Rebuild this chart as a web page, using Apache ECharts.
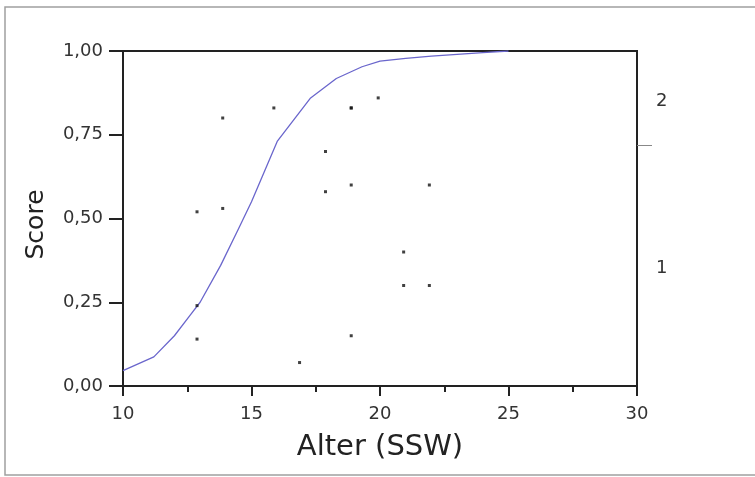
<!DOCTYPE html>
<html>
<head>
<meta charset="utf-8">
<script src="https://cdn.jsdelivr.net/npm/echarts@6/dist/echarts.min.js"></script>
<style>
  html, body { margin: 0; padding: 0; background: #fff; }
  #chart { width: 755px; height: 477px; }
</style>
</head>
<body>
<div id="chart"></div>
<script>
const caseAge = [12.88, 12.88, 12.88, 13.88, 13.88, 15.87, 16.87, 17.88, 17.88, 18.88, 18.88, 18.88, 18.88, 19.93, 20.92, 20.92, 21.92, 21.92]
const caseScore = [0.52, 0.24, 0.14, 0.80, 0.53, 0.83, 0.07, 0.70, 0.58, 0.83, 0.60, 0.15, 0.83, 0.86, 0.40, 0.30, 0.60, 0.30]

// fitted curve
const curveAge = [10, 11.2, 12, 12.6, 13, 13.8, 14.5, 15, 16, 17.3, 18.3, 19.3, 20, 21, 22, 23, 24, 25]
const curveScore = [0.046, 0.087, 0.15, 0.21, 0.25, 0.36, 0.47, 0.55, 0.73, 0.86, 0.918, 0.953, 0.97, 0.978, 0.985, 0.99, 0.995, 1.0]

// y tick labels and group labels on the right
const scoreTicks = ['0,00', '0,25', '0,50', '0,75', '1,00']
const groupLabels = ['1', '2']
const groupLabelAt = [0.35, 0.85]
const groupBoundary = [0.72]

const chart = echarts.init(document.getElementById('chart'))
const font = 'DejaVu Sans'

chart.setOption({
  animation: false,
  backgroundColor: '#fff',
  graphic: [
    {
      type: 'rect',
      shape: { x: 5, y: 7, width: 800, height: 468 },
      style: { fill: 'none', stroke: '#a0a0a0', lineWidth: 1.5 },
      silent: true,
    },
  ],
  grid: {
    left: 123,
    right: 118,
    top: 51,
    bottom: 91,
    show: true,
    borderColor: '#222',
    borderWidth: 2,
  },
  xAxis: {
    type: 'value',
    min: 10,
    max: 30,
    interval: 5,
    name: 'Alter (SSW)',
    nameLocation: 'middle',
    nameGap: 47,
    nameTextStyle: { fontFamily: font, fontSize: 29, color: '#222' },
    axisLine: { lineStyle: { color: '#222', width: 2 } },
    axisTick: { length: 10, lineStyle: { color: '#222', width: 2 } },
    minorTick: { show: true, splitNumber: 2, length: 6, lineStyle: { color: '#222', width: 2 } },
    axisLabel: { fontFamily: font, fontSize: 18, color: '#333', margin: 19 },
    splitLine: { show: false },
  },
  yAxis: [
    {
      type: 'value',
      min: 0,
      max: 1,
      interval: 0.25,
      name: 'Score',
      nameLocation: 'middle',
      nameGap: 74,
      nameTextStyle: { fontFamily: font, fontSize: 25, color: '#222', padding: [0, 12, 0, 0] },
      axisLine: { show: true, lineStyle: { color: '#222', width: 2 } },
      axisTick: { show: true, length: 14, lineStyle: { color: '#222', width: 2 } },
      axisLabel: {
        fontFamily: font,
        fontSize: 18,
        color: '#333',
        margin: 20,
        formatter: (v) => scoreTicks[Math.round(v / 0.25)],
      },
      splitLine: { show: false },
    },
    {
      type: 'value',
      min: 0,
      max: 1,
      position: 'right',
      axisLine: { show: true, lineStyle: { color: '#222', width: 2 } },
      axisTick: {
        show: true,
        length: 15,
        customValues: groupBoundary,
        lineStyle: { color: '#888', width: 1 },
      },
      axisLabel: {
        fontFamily: font,
        fontSize: 18,
        color: '#333',
        margin: 19,
        customValues: groupLabelAt,
        formatter: (v) => groupLabels[groupLabelAt.indexOf(v)],
      },
      splitLine: { show: false },
    },
  ],
  series: [
    {
      name: 'Fit',
      type: 'line',
      showSymbol: false,
      smooth: false,
      lineStyle: { color: '#6a66cc', width: 1.3 },
      data: curveAge.map((a, i) => [a, curveScore[i]]),
      z: 2,
    },
    {
      name: 'Fälle',
      type: 'scatter',
      symbol: 'rect',
      symbolSize: 3,
      itemStyle: { color: '#111' },
      data: caseAge.map((a, i) => [a, caseScore[i]]),
      z: 3,
    },
  ],
})
</script>
</body>
</html>
